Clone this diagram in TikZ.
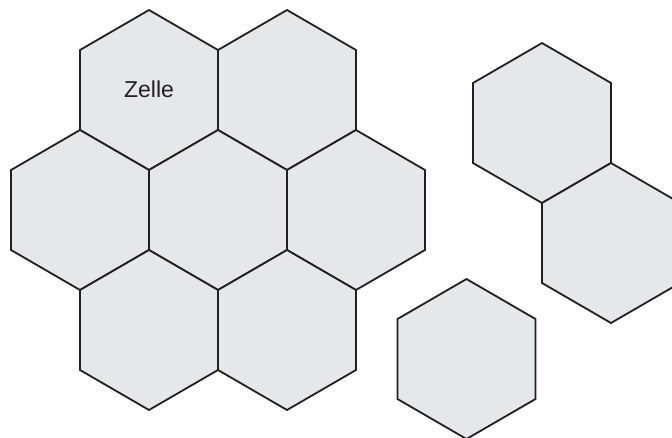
\documentclass[tikz,border=0pt]{standalone}
\usepackage{fontspec}
\setmainfont{Liberation Sans}
\definecolor{cellfill}{HTML}{E6E7E8}
\definecolor{cellline}{HTML}{231F20}
\tikzset{
  hexline/.style={draw=cellline,fill=cellfill,line width=1.8pt,line join=miter},
  hexcell/.pic={\path[hexline] (0,80)--(69,40)--(69,-40)--(0,-80)--(-69,-40)--(-69,40)--cycle;},
  celllabel/.style={font=\fontsize{23}{27}\selectfont,text=cellline,inner sep=0pt}
}
\begin{document}
\begin{tikzpicture}[x=1pt,y=-1pt]
\useasboundingbox (0,0) rectangle (672,437);
\clip (0,0) rectangle (672,437);
% cluster
\pic at (149,90) {hexcell};
\pic at (287,90) {hexcell};
\pic at (80,210) {hexcell};
\pic at (218,210) {hexcell};
\pic at (356,210) {hexcell};
\pic at (149,330) {hexcell};
\pic at (287,330) {hexcell};
% right pair
\pic at (542,123) {hexcell};
\pic at (611,243) {hexcell};
% single
\pic at (466.5,359) {hexcell};
\node[celllabel] (zelle) at (149,89) {Zelle};
\end{tikzpicture}
\end{document}
